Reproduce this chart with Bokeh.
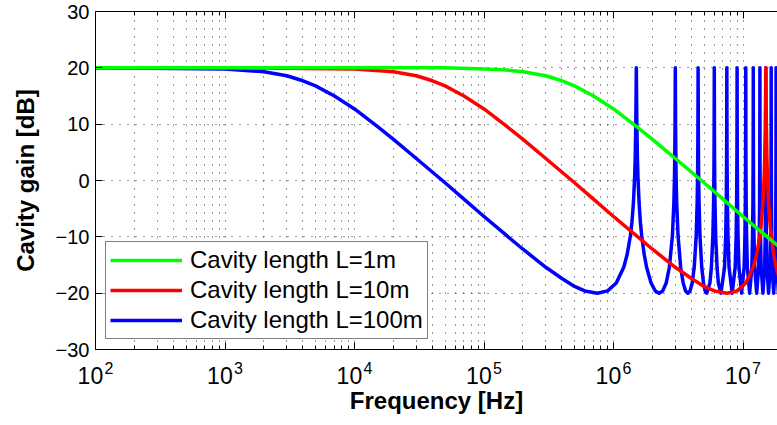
from bokeh.plotting import figure
from bokeh.models import LogAxis, FixedTicker, CustomJSTickFormatter, Legend, LegendItem
from bokeh.embed import file_html
from bokeh.resources import INLINE

# ---------------- data ----------------
x_ticks = [1e2, 1e3, 1e4, 1e5, 1e6, 1e7]
y_ticks = [-30, -20, -10, 0, 10, 20, 30]

labels = ["Cavity length L=1m", "Cavity length L=10m", "Cavity length L=100m"]

# L = 1 m
green_hz = [1e2, 1e3, 1e4, 5e4, 1e5, 1.5e5, 2e5, 3e5, 4e5, 5e5, 7e5, 1e6, 1.5e6,
            2e6, 3e6, 5e6, 7e6, 1e7, 1.5e7, 2e7]
green_db = [20.0, 20.0, 20.0, 20.0, 19.8, 19.6, 19.3, 18.6, 17.7, 16.8, 15.0, 12.7, 9.6,
            7.3, 3.9, -0.4, -3.3, -6.4, -9.8, -12.2]

# L = 10 m : roll-off, then the first resonance near 15 MHz
red_hz = [1e2, 1e3, 1e4, 2e4, 3e4, 4e4, 5e4, 7e4, 1e5, 1.5e5, 2e5, 3e5, 5e5, 7e5,
          1e6, 1.5e6, 2e6, 3e6, 4e6, 5e6, 6e6, 7.5e6]
red_db = [20.0, 20.0, 19.8, 19.3, 18.6, 17.7, 16.8, 15.0, 12.7, 9.6, 7.3, 3.9, -0.4, -3.3,
          -6.4, -9.8, -12.2, -15.4, -17.4, -18.8, -19.6, -20.0]
red_peak_mhz = [9.0, 10.5, 12.0, 12.75, 13.5, 13.875, 14.25, 14.55, 14.7, 14.85, 14.925,
                15.0, 15.075, 15.15, 15.3, 15.45, 15.75, 16.125, 16.5, 17.25, 18.0, 19.5]
red_peak_db = [-19.6, -18.2, -15.4, -13.1, -9.8, -7.4, -3.9, 0.5, 3.9, 9.6, 14.6,
               20.0, 14.6, 9.6, 3.9, 0.5, -3.9, -7.4, -9.8, -13.1, -15.4, -18.2]

# L = 100 m : roll-off, then the comb of resonances (every 1.5 MHz)
blue_hz = [1e2, 1e3, 2e3, 3e3, 4e3, 5e3, 7e3, 1e4, 1.5e4, 2e4, 3e4, 5e4, 7e4, 1e5,
           1.5e5, 2e5, 3e5, 4e5, 5e5, 6e5, 7.5e5]
blue_db = [20.0, 19.8, 19.3, 18.6, 17.7, 16.8, 15.0, 12.7, 9.6, 7.3, 3.9, -0.4, -3.3, -6.4,
           -9.8, -12.2, -15.4, -17.4, -18.8, -19.6, -20.0]
blue_comb_mhz = [
    0.9, 1.05, 1.2, 1.275, 1.35, 1.3875, 1.425, 1.455, 1.47, 1.485, 1.4925, 1.5,
    1.5075, 1.515, 1.53, 1.545, 1.575, 1.6125, 1.65, 1.725, 1.8, 1.95, 2.1, 2.25,
    2.4, 2.55, 2.7, 2.85, 2.925, 2.955, 2.97, 2.985, 3.0,
    3.015, 3.03, 3.045, 3.075, 3.15, 3.3, 3.45, 3.6, 3.75,
    3.9, 4.05, 4.2, 4.35, 4.425, 4.455, 4.47, 4.485, 4.5,
    4.515, 4.53, 4.545, 4.575, 4.65, 4.8, 4.95, 5.1, 5.25,
    5.55, 5.7, 5.85, 5.925, 5.955, 5.97, 5.985, 6.0,
    6.015, 6.03, 6.045, 6.075, 6.15, 6.3, 6.45, 6.75,
    7.2, 7.35, 7.425, 7.47, 7.485, 7.5, 7.515, 7.53, 7.575, 7.65, 7.8, 8.25,
    8.7, 8.85, 8.925, 8.97, 8.985, 9.0, 9.015, 9.03, 9.075, 9.15, 9.3, 9.75,
    10.2, 10.35, 10.425, 10.47, 10.485, 10.5, 10.515, 10.53, 10.575, 10.65, 10.8, 11.25,
    11.7, 11.85, 11.925, 11.97, 11.985, 12.0, 12.015, 12.03, 12.075, 12.15, 12.3, 12.75,
    13.2, 13.35, 13.425, 13.47, 13.485, 13.5, 13.515, 13.53, 13.575, 13.65, 13.8, 14.25,
    14.7, 14.85, 14.925, 14.97, 14.985, 15.0, 15.015, 15.03, 15.075, 15.15, 15.3, 15.75,
    16.2, 16.35, 16.425, 16.47, 16.485, 16.5, 16.515, 16.53, 16.575, 16.65, 16.8, 17.25,
    17.7, 17.85, 17.925, 17.97, 17.985, 18.0, 18.015, 18.03, 18.075, 18.15, 18.3, 18.75,
    19.2, 19.35,
]
blue_comb_db = [
    -19.6, -18.2, -15.4, -13.1, -9.8, -7.4, -3.9, 0.5, 3.9, 9.6, 14.6, 20.0,
    14.6, 9.6, 3.9, 0.5, -3.9, -7.4, -9.8, -13.1, -15.4, -18.2, -19.6, -20.0,
    -19.6, -18.2, -15.4, -9.8, -3.9, 0.5, 3.9, 9.6, 20.0,
    9.6, 3.9, 0.5, -3.9, -9.8, -15.4, -18.2, -19.6, -20.0,
    -19.6, -18.2, -15.4, -9.8, -3.9, 0.5, 3.9, 9.6, 20.0,
    9.6, 3.9, 0.5, -3.9, -9.8, -15.4, -18.2, -19.6, -20.0,
    -18.2, -15.4, -9.8, -3.9, 0.5, 3.9, 9.6, 20.0,
    9.6, 3.9, 0.5, -3.9, -9.8, -15.4, -18.2, -20.0,
    -15.4, -9.8, -3.9, 3.9, 9.6, 20.0, 9.6, 3.9, -3.9, -9.8, -15.4, -20.0,
    -15.4, -9.8, -3.9, 3.9, 9.6, 20.0, 9.6, 3.9, -3.9, -9.8, -15.4, -20.0,
    -15.4, -9.8, -3.9, 3.9, 9.6, 20.0, 9.6, 3.9, -3.9, -9.8, -15.4, -20.0,
    -15.4, -9.8, -3.9, 3.9, 9.6, 20.0, 9.6, 3.9, -3.9, -9.8, -15.4, -20.0,
    -15.4, -9.8, -3.9, 3.9, 9.6, 20.0, 9.6, 3.9, -3.9, -9.8, -15.4, -20.0,
    -15.4, -9.8, -3.9, 3.9, 9.6, 20.0, 9.6, 3.9, -3.9, -9.8, -15.4, -20.0,
    -15.4, -9.8, -3.9, 3.9, 9.6, 20.0, 9.6, 3.9, -3.9, -9.8, -15.4, -20.0,
    -15.4, -9.8, -3.9, 3.9, 9.6, 20.0, 9.6, 3.9, -3.9, -9.8, -15.4, -20.0,
    -15.4, -9.8,
]

# ---------------- figure ----------------
FONT = "Liberation Sans"
X_START, X_END = 1e2, 1.846e7

p = figure(width=777, height=425, x_axis_type="log", x_range=(X_START, X_END),
           y_range=(-30, 30), output_backend="svg", toolbar_location=None,
           title=None, min_border_left=95, min_border_right=0, min_border_top=11,
           min_border_bottom=76)
p.outline_line_color = None
p.background_fill_color = "white"
p.border_fill_color = "white"

minor_x = [m * d for d in x_ticks for m in range(2, 10)]
xticker = FixedTicker(ticks=x_ticks, minor_ticks=minor_x)
yticker = FixedTicker(ticks=y_ticks, minor_ticks=[])

# exponents (raised, right of the tick) and bases "10" (left of the tick)
exp_code = """
const sup = Math.round(Math.log10(tick));
return "\\u2007\\u2007\\u2007" + sup;
"""
base_code = """return "10\\u00a0\\u2006";"""
ycode = """return tick < 0 ? "\\u2212" + (-tick) : "" + tick;"""

xa = p.xaxis[0]
xa.ticker = xticker
xa.formatter = CustomJSTickFormatter(code=exp_code)
ya = p.yaxis[0]
ya.ticker = yticker
ya.formatter = CustomJSTickFormatter(code=ycode)

for ax in (xa, ya):
    ax.major_tick_in = 7
    ax.major_tick_out = 0
    ax.minor_tick_in = 4
    ax.minor_tick_out = 0
    ax.axis_line_color = "black"
    ax.axis_line_width = 1
    ax.major_tick_line_color = "black"
    ax.minor_tick_line_color = "black"
    ax.major_label_text_font = FONT
    ax.major_label_text_color = "black"
    ax.axis_label_text_font = FONT
    ax.axis_label_text_font_size = "24px"
    ax.axis_label_text_font_style = "bold"
    ax.axis_label_text_color = "black"
ya.minor_tick_in = 0
ya.major_label_text_font_size = "20px"
ya.axis_label = "Cavity gain [dB]"
ya.major_label_standoff = 6
ya.axis_label_standoff = 14

xa.major_label_text_font_size = "16px"
xa.major_label_standoff = 10

xb = LogAxis(ticker=xticker, formatter=CustomJSTickFormatter(code=base_code),
             axis_line_color=None, major_tick_line_color=None,
             minor_tick_line_color=None, major_tick_in=0, major_tick_out=0,
             minor_tick_in=0, minor_tick_out=0,
             major_label_text_font=FONT, major_label_text_font_size="23px",
             major_label_text_color="black", major_label_standoff=-17,
             axis_label="Frequency [Hz]", axis_label_text_font=FONT,
             axis_label_text_font_size="24px", axis_label_text_font_style="bold",
             axis_label_text_color="black", axis_label_standoff=-5)
p.add_layout(xb, "below")

top = LogAxis(ticker=xticker, major_tick_in=7, major_tick_out=0, minor_tick_in=4,
              minor_tick_out=0, major_label_text_font_size="0px",
              major_label_standoff=0, axis_line_color="black",
              formatter=CustomJSTickFormatter(code="return '';"))
p.add_layout(top, "above")

p.xgrid.ticker = xticker
p.ygrid.ticker = yticker
for g in (p.xgrid, p.ygrid):
    g.grid_line_color = "#333333"
    g.grid_line_dash = "1 7"
    g.grid_line_width = 1
p.xgrid.minor_grid_line_color = "#333333"
p.xgrid.minor_grid_line_dash = "1 7"

# draw order: blue, red, green (green on top)
blue_x = blue_hz + [v * 1e6 for v in blue_comb_mhz]
blue_y = blue_db + blue_comb_db
red_x = red_hz + [v * 1e6 for v in red_peak_mhz]
red_y = red_db + red_peak_db

rb = p.line(blue_x, blue_y, line_color="#0000ff", line_width=3.5, line_join="round")
rr = p.line(red_x, red_y, line_color="#ff0000", line_width=3.5, line_join="round")
rg = p.line(green_hz, green_db, line_color="#00ff00", line_width=3.5, line_join="round")

legend = Legend(items=[LegendItem(label=labels[0], renderers=[rg]),
                       LegendItem(label=labels[1], renderers=[rr]),
                       LegendItem(label=labels[2], renderers=[rb])],
                location=(10, 10))
legend.margin = 0
legend.padding = 4
legend.spacing = 2
legend.glyph_width = 72
legend.glyph_height = 22
legend.label_height = 22
legend.label_standoff = 8
legend.label_text_font = FONT
legend.label_text_font_size = "24px"
legend.label_text_color = "black"
legend.border_line_color = "black"
legend.border_line_width = 1
legend.background_fill_color = "white"
legend.background_fill_alpha = 1
p.add_layout(legend)

open("out.html", "w").write(file_html(p, INLINE))
